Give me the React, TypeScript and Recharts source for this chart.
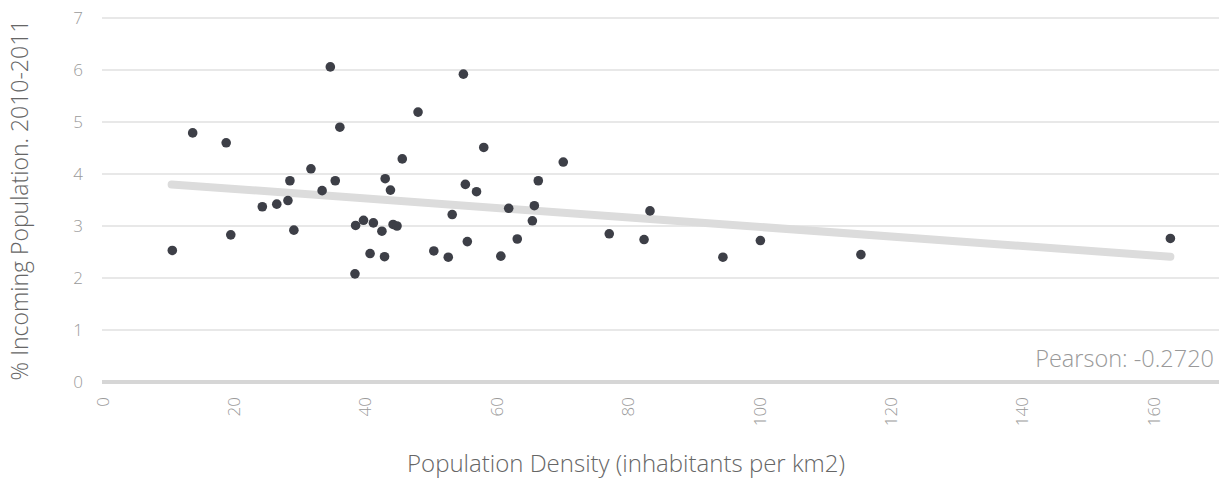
import React from 'react';
import { ScatterChart, Scatter, XAxis, YAxis, CartesianGrid, ReferenceLine } from 'recharts';

const densityValues = [
  10.7, 13.8, 18.9, 19.6, 24.4, 26.6, 28.3, 28.6, 29.2, 31.8,
  33.5, 34.75, 35.5, 36.2, 38.5, 38.6, 39.8, 40.8, 41.3, 42.6,
  43.0, 43.1, 43.9, 44.3, 44.9, 45.7, 48.1, 50.5, 52.7, 53.3,
  55.0, 55.3, 55.6, 57.0, 58.1, 60.7, 61.9, 63.2, 65.5, 65.8,
  66.4, 70.2, 77.2, 82.5, 83.4, 94.5, 100.2, 115.5, 162.6,
];
const incomingValues = [
  2.53, 4.79, 4.60, 2.83, 3.37, 3.42, 3.49, 3.87, 2.92, 4.10,
  3.68, 6.06, 3.87, 4.90, 2.08, 3.01, 3.11, 2.47, 3.06, 2.90,
  2.41, 3.91, 3.69, 3.03, 3.00, 4.29, 5.19, 2.52, 2.40, 3.22,
  5.92, 3.80, 2.70, 3.66, 4.51, 2.42, 3.34, 2.75, 3.10, 3.39,
  3.87, 4.23, 2.85, 2.74, 3.29, 2.40, 2.72, 2.45, 2.76,
];
const xTicks = [0, 20, 40, 60, 80, 100, 120, 140, 160];
const yTicks = [0, 1, 2, 3, 4, 5, 6, 7];
const trendX = [10.6, 162.6];
const trendY = [3.80, 2.41];
const pearsonLabel = 'Pearson: -0.2720';
const xTitle = 'Population Density (inhabitants per km2)';
const yTitle = '% Incoming Population. 2010-2011';

const points = densityValues.map((x, i) => ({ x, y: incomingValues[i] }));
const trend = trendX.map((x, i) => ({ x, y: trendY[i] }));

const FONT = "'Open Sans', Lato, sans-serif";

const XTick = (props: any) => {
  const { x, y, payload } = props;
  return (
    <g transform={`translate(${x},${y})`}>
      <text
        transform="rotate(-90)"
        textAnchor="end"
        dominantBaseline="central"
        fill="#9a9a9a"
        fontSize={17}
        fontFamily={FONT}
        fontWeight={300}
      >
        {payload.value}
      </text>
    </g>
  );
};

const YTitle = (props: any) => {
  const vb = props.viewBox || { x: 0, y: 18, width: 102, height: 364 };
  const cx = vb.x + 19;
  const cy = vb.y + vb.height / 2;
  return (
    <text
      x={cx}
      y={cy}
      transform={`rotate(-90 ${cx} ${cy})`}
      textAnchor="middle"
      dominantBaseline="central"
      fill="#666"
      fontSize={23}
      fontFamily={FONT}
      fontWeight={300}
    >
      {yTitle}
    </text>
  );
};

const XTitle = (props: any) => {
  return (
    <text
      x={626}
      y={472}
      textAnchor="middle"
      fill="#666"
      fontSize={24}
      fontFamily={FONT}
      fontWeight={300}
    >
      {xTitle}
    </text>
  );
};

const PearsonLabel = (props: any) => {
  const vb = props.viewBox || { x: 102, y: 382, width: 1117, height: 0 };
  return (
    <text
      x={vb.x + vb.width - 5}
      y={vb.y - 15}
      textAnchor="end"
      fill="#999"
      fontSize={23.5}
      fontFamily={FONT}
      fontWeight={300}
    >
      {pearsonLabel}
    </text>
  );
};

const Dot = (props: any) => {
  const { cx, cy } = props;
  if (cx == null || cy == null) return null;
  return <circle cx={cx} cy={cy} r={4.8} fill="#3d3f47" />;
};

export default function App() {
  return (
    <div style={{ position: 'absolute', left: 0, top: 0, background: '#fff' }}>
      <ScatterChart
        width={1219}
        height={479}
        margin={{ top: 18, right: 0, bottom: 0, left: 0 }}
      >
        <CartesianGrid vertical={false} stroke="#e0e0e0" strokeWidth={1.5} />
        <XAxis
          type="number"
          dataKey="x"
          domain={[0, 170]}
          ticks={xTicks}
          axisLine={false}
          tickLine={false}
          tickSize={0}
          tickMargin={15}
          height={97}
          tick={<XTick />}
          interval={0}
          label={XTitle}
        />
        <YAxis
          type="number"
          dataKey="y"
          domain={[0, 7]}
          ticks={yTicks}
          axisLine={false}
          tickLine={false}
          tickSize={0}
          tickMargin={19}
          width={102}
          interval={0}
          tick={{ fill: '#9a9a9a', fontSize: 17, fontFamily: FONT, fontWeight: 300 }}
          label={YTitle}
        />
        <ReferenceLine y={0} stroke="#d6d6d6" strokeWidth={4} label={PearsonLabel} />
        <Scatter
          data={trend}
          line={{ stroke: '#dcdcdc', strokeWidth: 8, strokeLinecap: 'round' }}
          shape={() => null}
          isAnimationActive={false}
        />
        <Scatter data={points} shape={Dot} isAnimationActive={false} />
      </ScatterChart>
    </div>
  );
}
